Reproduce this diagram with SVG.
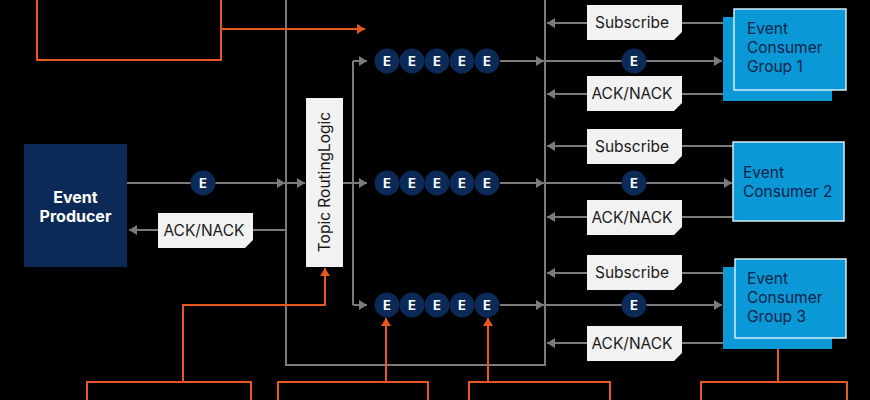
<svg xmlns="http://www.w3.org/2000/svg" xmlns:xlink="http://www.w3.org/1999/xlink" width="870" height="400" viewBox="0 0 870 400">
<style>
.g{fill:none;stroke:#7b7b7b;stroke-width:2}
.o{fill:none;stroke:#e8571f;stroke-width:2}
.ga{marker-end:url(#ag)}
.oa{marker-end:url(#ao)}
.ec{fill:#0c2a57}
.et{fill:#fff;font-family:Inter,"Liberation Sans",sans-serif;font-weight:700;font-size:13px;text-anchor:middle}
.lb{fill:#f2f2f2}
.lt{fill:#1a1a1a;font-family:Inter,"Liberation Sans",sans-serif;font-size:15.5px;text-anchor:middle}
.cb{fill:#0a98d6}
.cf{fill:#0a98d6;stroke:#d4ecf8;stroke-width:1.5}
.ct{fill:#0b2447;font-family:Inter,"Liberation Sans",sans-serif;font-size:15.5px}
.pt{fill:#fff;font-family:Inter,"Liberation Sans",sans-serif;font-weight:700;font-size:16px;text-anchor:middle}
</style>
<defs>
<marker id="ag" markerUnits="userSpaceOnUse" markerWidth="9" markerHeight="10" refX="8" refY="5" orient="auto"><path d="M0,0 L8,5 L0,10 z" fill="#7b7b7b"/></marker>
<marker id="ao" markerUnits="userSpaceOnUse" markerWidth="9" markerHeight="10" refX="8" refY="5" orient="auto"><path d="M0,0 L8,5 L0,10 z" fill="#e8571f"/></marker>
<path id="lbl" d="M0,0 H95 V27 L87,35 H0 Z"/>
</defs>
<rect width="870" height="400" fill="#000"/>

<g id="broker-frame">
<rect class="g" x="286" y="-10" width="259" height="375"/>
</g>

<g id="connectors">
<path class="g ga" d="M127,183 H285"/>
<path class="g ga" d="M287,183 H305"/>
<path class="g ga" d="M286,230 H129"/>
<path class="g ga" d="M343,183 H367"/>
<path class="g" d="M353,61 V305"/>
<path class="g ga" d="M353,61 H367"/>
<path class="g ga" d="M353,305 H367"/>
<path class="g ga" d="M500,61 H544"/>
<path class="g ga" d="M500,183 H544"/>
<path class="g ga" d="M500,305 H544"/>
<path class="g ga" d="M545,61 H722"/>
<path class="g ga" d="M545,183 H732"/>
<path class="g ga" d="M545,305 H722"/>
<path class="g ga" d="M723,23 H547"/>
<path class="g ga" d="M723,94 H547"/>
<path class="g ga" d="M733,146 H547"/>
<path class="g ga" d="M733,217 H547"/>
<path class="g ga" d="M723,273 H547"/>
<path class="g ga" d="M723,343 H547"/>
<path class="o oa" d="M221,29 H365"/>
<path class="o oa" d="M183,382 V305 H325 V268"/>
<path class="o oa" d="M386,382 V318"/>
<path class="o oa" d="M488,382 V318"/>
<path class="o oa" d="M778,382 V339"/>
</g>

<g id="annotation-top"><rect class="o" x="37" y="-10" width="184" height="70"/></g>
<g id="annotation-1"><rect class="o" x="87" y="382" width="164" height="30"/></g>
<g id="annotation-2"><rect class="o" x="278" y="382" width="150" height="30"/></g>
<g id="annotation-3"><rect class="o" x="469" y="382" width="141" height="30"/></g>
<g id="annotation-4"><rect class="o" x="701" y="382" width="146" height="30"/></g>

<g id="producer">
<rect x="24" y="144" width="103" height="123" fill="#0c2a57"/>
<text class="pt" x="75.5" y="203">Event</text>
<text class="pt" x="75.5" y="222">Producer</text>
</g>

<g id="producer-event">
<circle class="ec" cx="203" cy="183" r="12.5"/><text class="et" x="203" y="187.5">E</text>
</g>

<g id="producer-ack">
<use href="#lbl" class="lb" x="158" y="213"/>
<text class="lt" x="204" y="236">ACK/NACK</text>
</g>

<g id="topic-routing">
<rect x="306" y="98" width="37" height="169" fill="#f2f2f2"/>
<text class="lt" transform="translate(330,182) rotate(-90)">Topic RoutingLogic</text>
</g>

<g id="queue-1">
<circle class="ec" cx="387" cy="61" r="12.5"/><text class="et" x="387" y="65.5">E</text>
<circle class="ec" cx="412" cy="61" r="12.5"/><text class="et" x="412" y="65.5">E</text>
<circle class="ec" cx="437" cy="61" r="12.5"/><text class="et" x="437" y="65.5">E</text>
<circle class="ec" cx="462" cy="61" r="12.5"/><text class="et" x="462" y="65.5">E</text>
<circle class="ec" cx="487" cy="61" r="12.5"/><text class="et" x="487" y="65.5">E</text>
</g>
<g id="queue-2">
<circle class="ec" cx="387" cy="183" r="12.5"/><text class="et" x="387" y="187.5">E</text>
<circle class="ec" cx="412" cy="183" r="12.5"/><text class="et" x="412" y="187.5">E</text>
<circle class="ec" cx="437" cy="183" r="12.5"/><text class="et" x="437" y="187.5">E</text>
<circle class="ec" cx="462" cy="183" r="12.5"/><text class="et" x="462" y="187.5">E</text>
<circle class="ec" cx="487" cy="183" r="12.5"/><text class="et" x="487" y="187.5">E</text>
</g>
<g id="queue-3">
<circle class="ec" cx="387" cy="305" r="12.5"/><text class="et" x="387" y="309.5">E</text>
<circle class="ec" cx="412" cy="305" r="12.5"/><text class="et" x="412" y="309.5">E</text>
<circle class="ec" cx="437" cy="305" r="12.5"/><text class="et" x="437" y="309.5">E</text>
<circle class="ec" cx="462" cy="305" r="12.5"/><text class="et" x="462" y="309.5">E</text>
<circle class="ec" cx="487" cy="305" r="12.5"/><text class="et" x="487" y="309.5">E</text>
</g>

<g id="delivery-events">
<circle class="ec" cx="634" cy="61" r="12.5"/><text class="et" x="634" y="65.5">E</text>
<circle class="ec" cx="634" cy="183" r="12.5"/><text class="et" x="634" y="187.5">E</text>
<circle class="ec" cx="634" cy="305" r="12.5"/><text class="et" x="634" y="309.5">E</text>
</g>

<g id="labels-right">
<use href="#lbl" class="lb" x="587" y="5"/><text class="lt" x="632" y="28">Subscribe</text>
<use href="#lbl" class="lb" x="587" y="76"/><text class="lt" x="632" y="99">ACK/NACK</text>
<use href="#lbl" class="lb" x="587" y="129"/><text class="lt" x="632" y="152">Subscribe</text>
<use href="#lbl" class="lb" x="587" y="200"/><text class="lt" x="632" y="223">ACK/NACK</text>
<use href="#lbl" class="lb" x="587" y="255"/><text class="lt" x="632" y="278">Subscribe</text>
<use href="#lbl" class="lb" x="587" y="326"/><text class="lt" x="632" y="349">ACK/NACK</text>
</g>

<g id="consumer-group-1">
<rect class="cb" x="723" y="17" width="109" height="84"/>
<rect class="cf" x="734" y="9" width="112" height="81"/>
<text class="ct" x="747" y="34">Event</text>
<text class="ct" x="747" y="53">Consumer</text>
<text class="ct" x="747" y="72">Group 1</text>
</g>

<g id="consumer-2">
<rect class="cf" x="733" y="142" width="111" height="79"/>
<text class="ct" x="743" y="178">Event</text>
<text class="ct" x="743" y="197">Consumer 2</text>
</g>

<g id="consumer-group-3">
<rect class="cb" x="723" y="267" width="109" height="82"/>
<rect class="cf" x="735" y="259" width="111" height="79"/>
<text class="ct" x="747" y="284">Event</text>
<text class="ct" x="747" y="303">Consumer</text>
<text class="ct" x="747" y="322">Group 3</text>
</g>
</svg>
